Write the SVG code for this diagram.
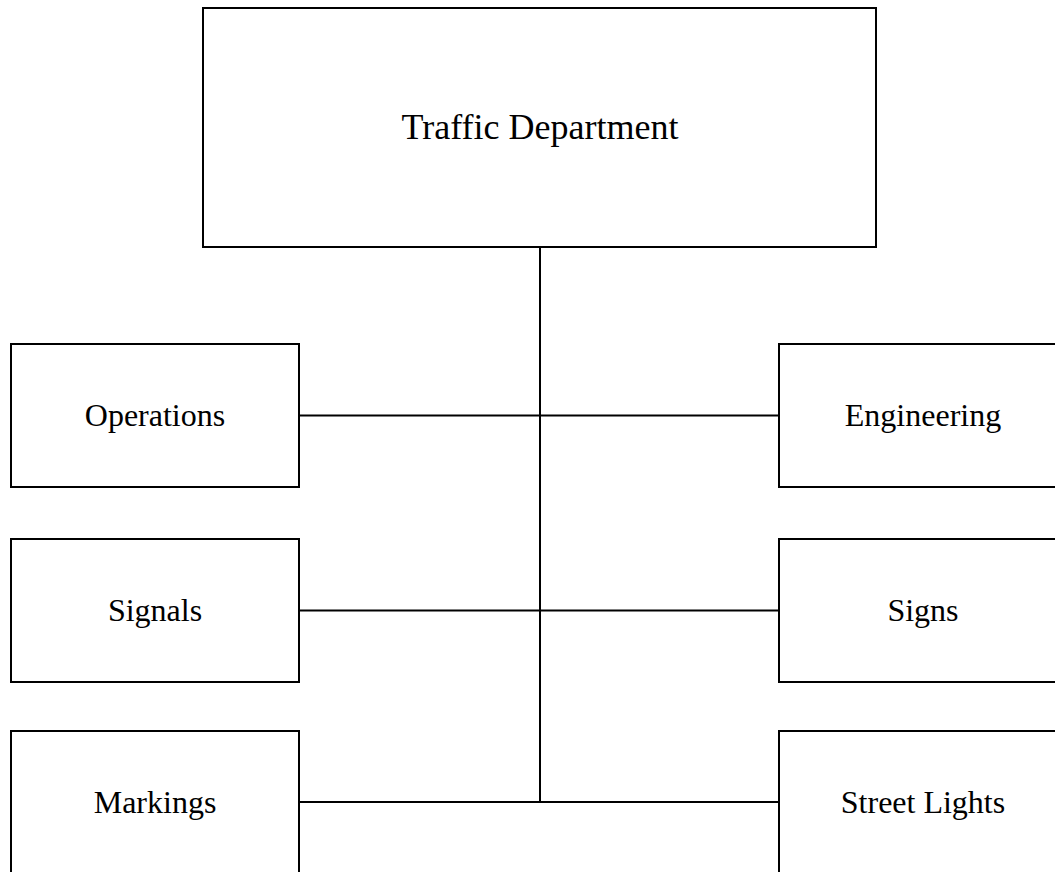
<svg xmlns="http://www.w3.org/2000/svg" width="1055" height="872" viewBox="0 0 1055 872">
  <style>
    .box { fill: #ffffff; stroke: #000000; stroke-width: 2; }
    .link { fill: none; stroke: #000000; stroke-width: 2; }
    .label { font-family: "Liberation Serif", "Times New Roman", serif; font-size: 32px; fill: #000000; text-anchor: middle; }
    .title { font-size: 36px; }
  </style>
  <rect x="0" y="0" width="1055" height="872" fill="#ffffff"/>

  <!-- connectors -->
  <g id="connectors">
    <line class="link" x1="540" y1="247" x2="540" y2="802"/>
    <line class="link" x1="299" y1="415.5" x2="779" y2="415.5"/>
    <line class="link" x1="299" y1="610.5" x2="779" y2="610.5"/>
    <line class="link" x1="299" y1="802" x2="779" y2="802"/>
  </g>

  <g id="traffic-department">
    <rect class="box" x="203" y="8" width="673" height="239"/>
    <text class="label title" x="540" y="139">Traffic Department</text>
  </g>

  <g id="operations">
    <rect class="box" x="11" y="344" width="288" height="143"/>
    <text class="label" x="155" y="426">Operations</text>
  </g>

  <g id="engineering">
    <rect class="box" x="779" y="344" width="288" height="143"/>
    <text class="label" x="923" y="426">Engineering</text>
  </g>

  <g id="signals">
    <rect class="box" x="11" y="539" width="288" height="143"/>
    <text class="label" x="155" y="621">Signals</text>
  </g>

  <g id="signs">
    <rect class="box" x="779" y="539" width="288" height="143"/>
    <text class="label" x="923" y="621">Signs</text>
  </g>

  <g id="markings">
    <rect class="box" x="11" y="731" width="288" height="143"/>
    <text class="label" x="155" y="813">Markings</text>
  </g>

  <g id="street-lights">
    <rect class="box" x="779" y="731" width="288" height="143"/>
    <text class="label" x="923" y="813">Street Lights</text>
  </g>
</svg>
